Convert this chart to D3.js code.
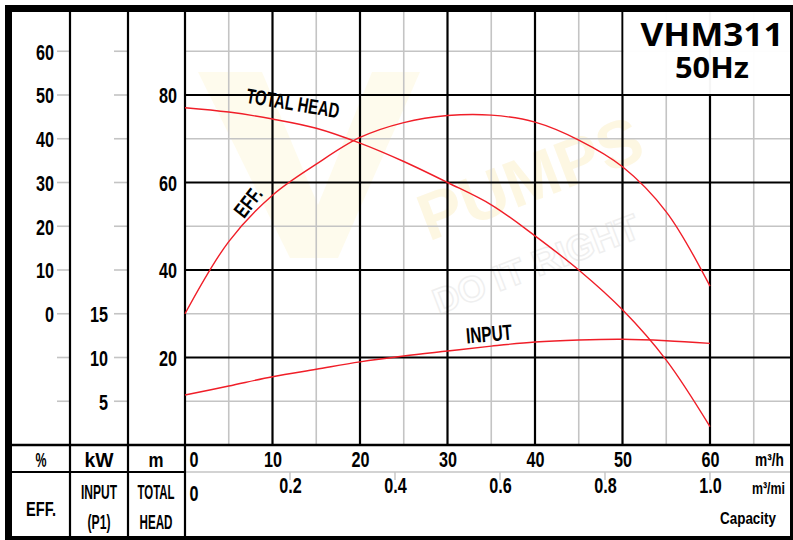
<!DOCTYPE html>
<html><head><meta charset="utf-8">
<script src="https://cdn.jsdelivr.net/npm/d3@7"></script>
<style>
html,body{margin:0;padding:0;background:#fff;}
svg{display:block;}
text{font-family:"Liberation Sans Narrow","Arial Narrow","Liberation Sans",Arial,sans-serif;font-weight:bold;fill:#000;}
</style></head><body>
<svg id="c" width="793" height="540"></svg>
<script>
// ---- data ----
const flow  = [0,5,10,15,20,25,30,35,40,45,50,55,60];              // m3/h
const head  = [77.1,76.1,74.5,72.4,69.0,64.8,60.0,54.9,47.8,40.0,30.9,19.4,4.2]; // m
const eff   = [0,16.5,27.1,34.2,40.3,43.7,45.3,45.4,43.8,39.7,33.6,23.3,6.3];  // %
const power = [5.71,6.74,7.8,8.65,9.5,10.17,10.74,11.3,11.77,12.0,12.08,11.92,11.62]; // kW
const effTicks  = [0,10,20,30,40,50,60];
const kwTicks   = [5,10,15];
const headTicks = [20,40,60,80];
const flowTicks = [0,10,20,30,40,50,60];
const minTicks  = [0,0.2,0.4,0.6,0.8,1.0];
const minLabels = ["0","0.2","0.4","0.6","0.8","1.0"];
const headGrid  = [10,20,30,40,50,60,70,80,90];
const flowGrid  = [5,10,15,20,25,30,35,40,45,50,55,60,65];

const svg = d3.select("#c");
const x  = d3.scaleLinear().domain([0,60]).range([185,710]);
const xM = d3.scaleLinear().domain([0,1]).range([185,710]);
const yH = d3.scaleLinear().domain([0,80]).range([445,95]);
const yE = d3.scaleLinear().domain([0,60]).range([yH(30),yH(90)]);
const yP = d3.scaleLinear().domain([0,15]).range([yH(0),yH(30)]);

const GREY="#c4c4c4", RED="#f01e28";
// width of a condensed label: digits ~9px, dot ~4.5px
const lenOf = s => [...String(s)].reduce((a,c)=>a+(c==="."?4.5:9),0);

svg.append("rect").attr("width",793).attr("height",540).attr("fill","#fff");

// ---- watermark ----
const wm = svg.append("g");
wm.append("path").attr("d","M198,72 L262,72 L318,205 L372,72 L420,72 L338,258 L290,258 Z")
  .attr("fill","#fdf4d2").attr("opacity",0.4);
wm.append("text").attr("transform","translate(530,178) rotate(-21)")
  .attr("text-anchor","middle").attr("dominant-baseline","central")
  .style("font-family","'Liberation Sans',Arial,sans-serif").style("font-size","66px")
  .style("fill","#fcf0c6").style("opacity",0.5).text("PUMPS");
wm.append("text").attr("transform","translate(536,264) rotate(-21)")
  .attr("text-anchor","middle").attr("dominant-baseline","central")
  .style("font-family","'Liberation Sans',Arial,sans-serif").style("font-size","36px")
  .style("fill","none").style("stroke","#efefef").style("stroke-width",1.5).text("DO IT RIGHT");

// ---- grid ----
const g = svg.append("g");
g.selectAll(".vmin").data(flowGrid.filter(d=>d%10!==0)).join("line")
  .attr("x1",d=>x(d)).attr("x2",d=>x(d)).attr("y1",12).attr("y2",445)
  .attr("stroke",GREY).attr("stroke-width",1.6);
g.selectAll(".hmin").data(headGrid.filter(d=>d%20!==0)).join("line")
  .attr("x1",185).attr("x2",790).attr("y1",d=>yH(d)).attr("y2",d=>yH(d))
  .attr("stroke",GREY).attr("stroke-width",1.6);
g.selectAll(".vmaj").data(flowGrid.filter(d=>d%10===0)).join("line")
  .attr("x1",d=>x(d)).attr("x2",d=>x(d)).attr("y1",12).attr("y2",445)
  .attr("stroke","#000").attr("stroke-width",2.2);
g.selectAll(".hmaj").data(headGrid.filter(d=>d%20===0)).join("line")
  .attr("x1",185).attr("x2",790).attr("y1",d=>yH(d)).attr("y2",d=>yH(d))
  .attr("stroke","#000").attr("stroke-width",2.2);

// left column tick marks
[[57,70],[114,128]].forEach(([a,b])=>{
  g.append("g").selectAll("line").data(headGrid).join("line")
   .attr("x1",a).attr("x2",b).attr("y1",d=>yH(d)).attr("y2",d=>yH(d))
   .attr("stroke",GREY).attr("stroke-width",1.6);
});

// title box
svg.append("rect").attr("x",623.5).attr("y",12).attr("width",167).attr("height",82).attr("fill","#fff").attr("opacity",0.96);
svg.append("text").attr("x",712).attr("y",46).attr("text-anchor","middle")
  .attr("textLength",143).attr("lengthAdjust","spacingAndGlyphs")
  .style("font-family","'Noto Sans','Open Sans',sans-serif").style("font-size","33px").text("VHM311");
svg.append("text").attr("x",712).attr("y",78).attr("text-anchor","middle")
  .attr("textLength",74).attr("lengthAdjust","spacingAndGlyphs")
  .style("font-family","'Noto Sans','Open Sans',sans-serif").style("font-size","28px").text("50Hz");

// ---- structure lines ----
const s = svg.append("g");
s.append("line").attr("x1",12).attr("x2",790).attr("y1",445).attr("y2",445).attr("stroke","#000").attr("stroke-width",2.5);
s.append("line").attr("x1",12).attr("x2",185).attr("y1",472).attr("y2",472).attr("stroke","#000").attr("stroke-width",2);
s.append("line").attr("x1",185).attr("x2",790).attr("y1",472).attr("y2",472).attr("stroke",GREY).attr("stroke-width",1.6);
s.selectAll(".col").data([70,128,185]).join("line")
  .attr("x1",d=>d).attr("x2",d=>d).attr("y1",12).attr("y2",536).attr("stroke","#000").attr("stroke-width",2.2);
s.selectAll(".mt").data(minTicks.filter(d=>d>0)).join("line")
  .attr("x1",d=>xM(d)).attr("x2",d=>xM(d)).attr("y1",472).attr("y2",480)
  .attr("stroke",GREY).attr("stroke-width",1.4);

// ---- curves ----
const cv = svg.append("g").attr("fill","none").attr("stroke",RED).attr("stroke-width",1.4);
const mk = (ys,sc)=>d3.line().x((d,i)=>x(flow[i])).y((d,i)=>sc(ys[i])).curve(d3.curveCatmullRom.alpha(0.5))(ys);
cv.append("path").attr("d",mk(head,yH));
cv.append("path").attr("d",mk(eff,yE));
cv.append("path").attr("d",mk(power,yP));

// curve labels
const lab=(t,tx,ty,rot,fs,len)=>svg.append("text")
  .attr("transform",`translate(${tx},${ty}) rotate(${rot})`)
  .attr("text-anchor","middle").attr("dominant-baseline","central")
  .attr("textLength",len).attr("lengthAdjust","spacingAndGlyphs")
  .style("font-size",fs+"px").text(t);
lab("TOTAL HEAD",293,103,9.5,21,94);
lab("EFF.",248,202,-52,21,32);
lab("INPUT",489,334,-5,22,46);

// ---- axes (tick labels) ----
function styleAxis(sel){ sel.select(".domain").remove(); sel.selectAll(".tick line").remove();
  sel.selectAll("text").style("font-size","22px").attr("fill","#000")
     .attr("lengthAdjust","spacingAndGlyphs").attr("textLength",function(){return lenOf(this.textContent);}); }
[[54,yE,effTicks],[108,yP,kwTicks],[177,yH,headTicks]].forEach(([tx,sc,tv])=>{
  svg.append("g").attr("transform",`translate(${tx},0)`)
    .call(d3.axisLeft(sc).tickValues(tv).tickSize(0).tickPadding(0)).call(styleAxis)
    .selectAll("text").attr("dy","0.36em");
});

const ax1 = svg.append("g").attr("transform","translate(0,459)")
  .call(d3.axisBottom(x).tickValues(flowTicks).tickSize(0).tickPadding(0)).call(styleAxis);
ax1.selectAll("text").attr("y",0).attr("dy","0.36em")
  .attr("dx",d=>d===0?8.5:0);
const ax2 = svg.append("g").attr("transform","translate(0,485)")
  .call(d3.axisBottom(xM).tickValues(minTicks).tickFormat((d,i)=>minLabels[i]).tickSize(0).tickPadding(0)).call(styleAxis);
ax2.selectAll("text").attr("y",d=>d===0?8:0).attr("dy","0.36em")
  .attr("dx",d=>d===0?8.5:0);

// unit labels
const txt=(t,tx,ty,fs,len,anchor)=>{const e=svg.append("text").attr("x",tx).attr("y",ty)
  .attr("text-anchor",anchor||"middle").attr("dominant-baseline","central").style("font-size",fs+"px").text(t);
  if(len) e.attr("textLength",len).attr("lengthAdjust","spacingAndGlyphs"); return e;};
txt("%",41,459,21,11);
txt("kW",99,459,21,29);
txt("m",156,459,21,15);
txt("EFF.",41,508,21,30);
txt("INPUT",99,492,20,36);
txt("(P1)",99,522,20,23);
txt("TOTAL",156,492,20,37);
txt("HEAD",156,522,20,33);
txt("m³/h",755,460,18,29,"start");
txt("m³/mi",752,488,17,33,"start");
txt("Capacity",748,518,17,56);

// ---- frame ----
svg.append("path").attr("fill","#000").attr("fill-rule","evenodd")
  .attr("d","M5,5 H793 V540 H5 Z M12,12 V536 H790 V12 Z");
</script>
</body></html>
